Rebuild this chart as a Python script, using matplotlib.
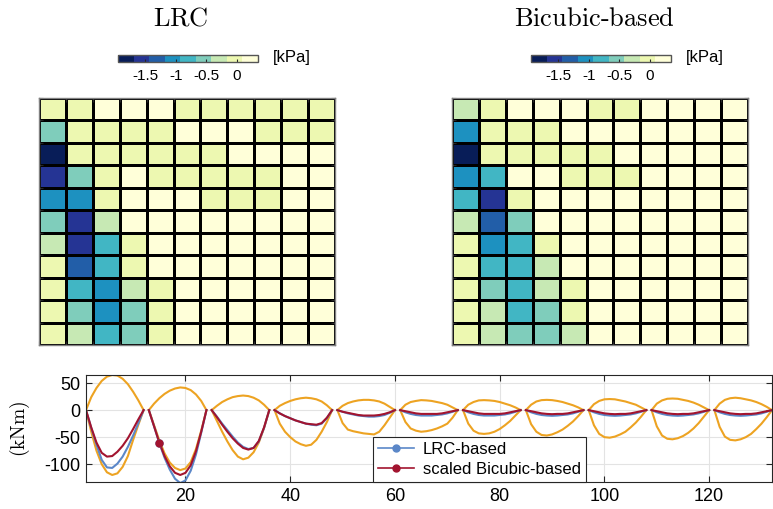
import numpy as np
import matplotlib
matplotlib.use("Agg")
import matplotlib.pyplot as plt
from matplotlib.colors import ListedColormap
from matplotlib.lines import Line2D

plt.rcParams['font.family'] = ['Liberation Sans', 'DejaVu Sans']
plt.rcParams['mathtext.fontset'] = 'cm'
plt.rcParams['axes.unicode_minus'] = False

# pressure maps [kPa], rows top to bottom
lrc_map = [
    [-0.06, -0.04, 0.15, 0.18, 0.16, -0.02, -0.05, -0.04, -0.03, -0.06, -0.05],
    [-0.55, -0.08, -0.06, -0.07, -0.05, 0.13, 0.15, 0.14, -0.02, -0.04, -0.03],
    [-1.85, -0.10, -0.08, -0.09, -0.07, -0.06, -0.04, 0.12, 0.16, 0.18, 0.17],
    [-1.57, -0.58, -0.09, 0.12, -0.05, -0.06, -0.04, -0.03, -0.02, 0.15, 0.18],
    [-1.05, -1.08, -0.10, 0.14, 0.16, 0.12, -0.03, -0.05, -0.04, 0.17, 0.19],
    [-0.57, -1.58, -0.30, 0.13, 0.18, 0.20, 0.20, 0.21, 0.20, 0.21, 0.22],
    [-0.28, -1.55, -0.82, -0.10, 0.15, 0.19, 0.20, 0.21, 0.21, 0.22, 0.22],
    [-0.08, -1.30, -0.78, -0.12, 0.14, 0.18, 0.20, 0.20, 0.21, 0.22, 0.22],
    [-0.06, -0.80, -1.04, -0.31, -0.09, 0.16, 0.19, 0.20, 0.21, 0.21, 0.22],
    [-0.05, -0.56, -1.07, -0.54, -0.10, 0.15, 0.19, 0.20, 0.20, 0.21, 0.22],
    [-0.07, -0.29, -0.81, -0.58, -0.11, 0.14, 0.18, 0.20, 0.21, 0.21, 0.22],
]
bicubic_map = [
    [-0.30, -0.06, 0.14, 0.17, 0.15, -0.03, -0.04, 0.12, 0.16, 0.18, 0.18],
    [-1.06, -0.09, -0.07, -0.05, 0.13, 0.16, 0.17, 0.18, 0.18, 0.19, 0.19],
    [-1.86, -0.11, -0.08, -0.07, -0.05, -0.04, 0.12, 0.16, 0.18, 0.19, 0.19],
    [-1.03, -0.79, 0.12, 0.14, -0.04, -0.05, -0.03, 0.15, 0.18, 0.19, 0.20],
    [-0.83, -1.56, -0.10, 0.13, 0.17, 0.19, 0.20, 0.20, 0.21, 0.21, 0.21],
    [-0.31, -1.29, -0.56, 0.12, 0.17, 0.19, 0.20, 0.21, 0.21, 0.22, 0.22],
    [-0.09, -1.05, -0.80, -0.08, 0.15, 0.19, 0.20, 0.21, 0.21, 0.22, 0.22],
    [-0.07, -0.81, -0.84, -0.30, 0.13, 0.18, 0.20, 0.20, 0.21, 0.22, 0.22],
    [-0.06, -0.55, -0.82, -0.32, -0.08, 0.15, 0.19, 0.20, 0.21, 0.21, 0.22],
    [-0.05, -0.28, -0.79, -0.57, -0.09, 0.14, 0.18, 0.20, 0.20, 0.21, 0.22],
    [-0.06, -0.27, -0.53, -0.56, -0.29, 0.13, 0.18, 0.20, 0.21, 0.21, 0.22],
]
cbar_ticks = [-1.5, -1, -0.5, 0]

# bending moment [kNm], 11 spans x 12 points
env_upper = [
    [0, 24, 41, 54, 62, 65, 64, 58, 48, 34, 18, 0],
    [0, 12, 22, 30, 36, 40, 42, 41, 37, 29, 17, 0],
    [0, 8, 15, 20, 24, 26, 27, 26, 23, 18, 10, 0],
    [0, 8, 13, 17, 20, 22, 23, 22, 20, 16, 9, 0],
    [0, 8, 13, 16, 18, 19, 19, 18, 16, 12, 6, 0],
    [0, 10, 15, 17, 18.5, 18, 17, 15, 13, 10, 5, 0],
    [0, 10, 15, 18, 18.5, 18, 17, 15, 12, 9, 5, 0],
    [0, 10, 16, 18.5, 19, 18.5, 17, 15, 12, 9, 5, 0],
    [0, 11, 17, 20, 20.5, 20, 18, 16, 13, 10, 5, 0],
    [0, 12, 18, 21, 21.5, 21, 19, 17, 14, 10, 5, 0],
    [0, 12, 19, 22, 23, 22, 20, 18, 15, 11, 6, 0],
]
env_lower = [
    [0, -40, -75, -100, -115, -120, -117, -105, -85, -55, -27, 0],
    [0, -28, -56, -80, -97, -107, -111, -108, -96, -72, -38, 0],
    [0, -20, -40, -58, -74, -86, -91, -88, -78, -60, -33, 0],
    [0, -25, -40, -50, -58, -63, -66, -64, -55, -40, -22, 0],
    [0, -24, -36, -39, -41, -43, -44, -45, -40, -28, -14, 0],
    [0, -22, -34, -38, -40, -39, -37, -34, -30, -25, -14, 0],
    [0, -25, -38, -43, -44, -43, -40, -35, -28, -20, -10, 0],
    [0, -26, -40, -46, -47, -45, -41, -36, -29, -21, -11, 0],
    [0, -28, -44, -50, -51, -49, -45, -40, -32, -23, -12, 0],
    [0, -30, -47, -53, -54, -52, -48, -42, -34, -24, -12, 0],
    [0, -31, -49, -55, -56, -54, -50, -44, -35, -25, -13, 0],
]
lrc_based = [
    [0, -33, -64, -92, -106, -107, -99, -86, -68, -47, -24, 0],
    [0, -30, -61, -88, -110, -127, -135, -130, -112, -82, -42, 0],
    [0, -12, -25, -37, -49, -60, -68, -72, -70, -58, -33, 0],
    [0, -6, -11, -15, -19, -22, -25, -27, -28, -25, -15, 0],
    [0, -3, -6, -8, -10, -11, -12, -12, -11, -9, -5, 0],
    [0, -4, -7, -9, -10, -10, -10, -9, -8, -6, -3, 0],
    [0, -4, -7, -9, -10, -10, -10, -9, -8, -6, -3, 0],
    [0, -4, -7, -9, -10, -10.5, -10, -9, -8, -6, -3, 0],
    [0, -4, -7, -9, -10, -10.5, -10, -9, -8, -6, -3, 0],
    [0, -4, -7, -9, -10, -10.5, -10, -9, -8, -6, -3, 0],
    [0, -4, -7, -9, -10, -10.5, -10, -9, -8, -6, -3, 0],
]
bicubic_scaled = [
    [0, -32, -60, -79, -86, -85, -77, -66, -52, -35, -17, 0],
    [0, -30, -60, -85, -104, -116, -120, -116, -102, -76, -40, 0],
    [0, -13, -27, -40, -52, -62, -70, -73, -70, -57, -32, 0],
    [0, -6, -11, -15, -19, -22, -25, -26, -27, -24, -14, 0],
    [0, -3, -5, -7, -9, -10, -10, -10, -9, -7, -4, 0],
    [0, -2, -4, -6, -7, -7, -7, -7, -6, -4, -2, 0],
    [0, -2, -4, -6, -7, -7, -7, -7, -6, -4, -2, 0],
    [0, -2, -4, -6, -7, -7.5, -7, -7, -6, -4, -2, 0],
    [0, -2, -4, -6, -7, -7.5, -7, -7, -6, -4, -2, 0],
    [0, -2, -4, -6, -7, -7.5, -7, -7, -6, -4, -2, 0],
    [0, -2, -4, -6, -7, -7.5, -7, -7, -6, -4, -2, 0],
]
span_len = 12
marker_x = 15

cmap = ListedColormap(['#081d58', '#253494', '#225ea8', '#1d91c0', '#41b6c4',
                       '#7fcdbb', '#c7e9b4', '#edf8b1', '#ffffd9'])
vmin, vmax = -1.95, 0.35
c_orange = '#EDA322'
c_blue = '#5B87C8'
c_red = '#A2142F'
frame = '#262626'

fig = plt.figure(figsize=(7.73, 5.09), dpi=100)
W, H = 773, 509

def px_axes(x0, y0, x1, y1):
    return fig.add_axes([x0 / W, 1 - y1 / H, (x1 - x0) / W, (y1 - y0) / H])

for data, left, title in [(lrc_map, 39, 'LRC'), (bicubic_map, 452, 'Bicubic-based')]:
    ax = px_axes(left, 98, left + 296, 345)
    arr = np.array(data)
    mesh = ax.pcolormesh(arr, cmap=cmap, vmin=vmin, vmax=vmax,
                         edgecolors='k', linewidth=0.8)
    ax.set_xlim(0, arr.shape[1])
    ax.set_ylim(arr.shape[0], 0)
    ax.set_xticks(np.arange(arr.shape[1] + 1))
    ax.set_yticks(np.arange(arr.shape[0] + 1))
    ax.tick_params(direction='in', length=3, labelbottom=False, labelleft=False,
                   top=True, right=True, color=frame)
    for s in ax.spines.values():
        s.set_color('#808080')
        s.set_linewidth(1.0)

    cax = px_axes(left + 79, 55, left + 219, 62)
    cb = fig.colorbar(mesh, cax=cax, orientation='horizontal', ticks=cbar_ticks)
    cb.ax.set_xticklabels(['-1.5', '-1', '-0.5', '0'])
    cb.ax.tick_params(direction='in', length=2, labelsize=11, pad=5, color=frame)
    cb.outline.set_edgecolor('#555555')
    cb.outline.set_linewidth(1.0)
    fig.text((left + 234) / W, 1 - 57.5 / H, '[kPa]', fontsize=12,
             ha='left', va='center')

    cx = left + 296 / 2 - 6
    fig.text(cx / W, 1 - 19 / H, r'$\mathrm{%s}$' % title.replace('-', '\\text{-}'),
             fontsize=19, ha='center', va='center')

# bending moment plot
ax = px_axes(86, 375, 772, 482)
for k in range(len(env_upper)):
    x = np.arange(k * span_len + 1, (k + 1) * span_len + 1)
    ax.plot(x, env_upper[k], color=c_orange, lw=1.5)
    ax.plot(x, env_lower[k], color=c_orange, lw=1.5)
    ax.plot(x, lrc_based[k], color=c_blue, lw=1.5)
    ax.plot(x, bicubic_scaled[k], color=c_red, lw=1.5)

k0 = (marker_x - 1) // span_len
i0 = (marker_x - 1) % span_len
ax.plot(marker_x, lrc_based[k0][i0], 'o', color=c_blue, ms=5)
ax.plot(marker_x, bicubic_scaled[k0][i0], 'o', color=c_red, ms=5)

ax.set_xlim(1, 132)
ax.set_ylim(-133, 65)
ax.set_xticks([20, 40, 60, 80, 100, 120])
ax.set_yticks([-100, -50, 0, 50])
ax.grid(True, color='#e3e3e3', lw=0.8)
ax.set_axisbelow(True)
ax.tick_params(direction='in', length=4, labelsize=13, top=True, right=True,
               color=frame, pad=4)
for s in ax.spines.values():
    s.set_color(frame)
    s.set_linewidth(0.8)
ax.set_ylabel(r'$\mathrm{(kNm)}$', fontsize=14)
ax.yaxis.set_label_coords(-0.079, 0.5)

handles = [Line2D([], [], color=c_blue, lw=1.2, marker='o', ms=5),
           Line2D([], [], color=c_red, lw=1.2, marker='o', ms=5)]
leg = ax.legend(handles, ['LRC-based', 'scaled Bicubic-based'], loc='lower left',
                bbox_to_anchor=(0.418, 0.0), borderaxespad=0, fontsize=12,
                fancybox=False, framealpha=1, edgecolor=frame,
                handlelength=2.2, borderpad=0.3, labelspacing=0.3,
                handletextpad=0.5)
leg.get_frame().set_linewidth(0.8)

fig.savefig('out.png', dpi=100)
